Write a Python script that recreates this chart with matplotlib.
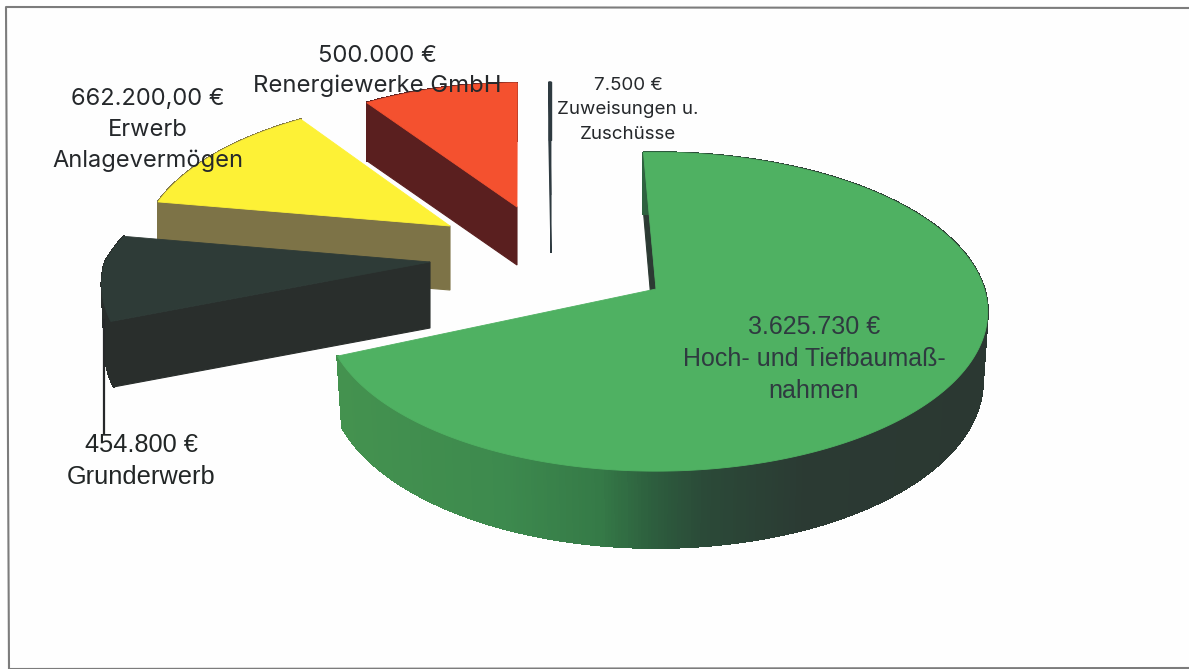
import numpy as np
import matplotlib
matplotlib.use("Agg")
import matplotlib.pyplot as plt
from matplotlib.collections import PolyCollection
from matplotlib.colors import LinearSegmentedColormap
from matplotlib.patches import Polygon

# ---- data ----
categories = ["Hoch- und Tiefbaumaß-\nnahmen", "Grunderwerb", "Erwerb\nAnlagevermögen",
              "Renergiewerke GmbH", "Zuweisungen u.\nZuschüsse"]
values = [3625730, 454800, 662200, 500000, 7500]
value_labels = ["3.625.730 €", "454.800 €", "662.200,00 €", "500.000 €", "7.500 €"]

# ---- styling / layout ----
tips = [(656, 289), (430, 262), (450, 226), (517, 207), (551, 195)]   # exploded wedge tip (pixels)
scales = [0.99, 0.98, 0.92, 0.90, 0.82]
depths = [68, 66, 64, 58, 58]
skews = [0, 0.12, 0.03, 0.01, 0]
rotations = [-2.5, 0, 0, 0, 0]
persp_depth = [1, 0, 0, 0, 0]
lowers = [0.985, 0.99, 1.0, 1.0, 1.0]
top_colors = ["#4fb162", "#2e3b37", "#fdf136", "#f4512f", "#2e3a40"]
face_colors = ["#2c3a33", "#292e2c", "#7d7347", "#5a1f1f", "#2e3a40"]
label_pos = [(814, 359), (141, 461), (148, 130), (377, 71), (628, 110)]
label_fonts = ["Liberation Sans", "Liberation Sans", "Inter", "Inter", "Inter"]
label_sizes = [18, 18.3, 17, 17.2, 13.5]
label_steps = [1.42, 1.4, 1.49, 1.47, 1.55]
label_colors = ["#2f3a40", "#222626", "#25282b", "#25282b", "#25282b"]

RX, RY, K = 331.6, 157.7, 1 / 7
wall_cmap = LinearSegmentedColormap.from_list(
    "wall", [(0.0, "#44924f"), (0.25, "#3d8a4e"), (0.4, "#357a47"), (0.48, "#2d5f3e"),
             (0.56, "#2b4a38"), (0.72, "#2b3a33"), (1.0, "#2b3832")])

fig = plt.figure(figsize=(11.89, 6.69), dpi=100, facecolor="#fefefe")
ax = fig.add_axes([0, 0, 1, 1])
ax.set_xlim(0, 1189)
ax.set_ylim(669, 0)
ax.axis("off")

# scanned page frame
ax.plot([1189, 6, 9, 1189], [8, 7, 669, 668], color="#7c7c7c", lw=1.5, zorder=1)

fractions = np.array(values, dtype=float) / sum(values)
ends = np.cumsum(fractions) * 360
starts = ends - fractions * 360


def project(theta_deg, i, lower=False):
    """Perspective projection of a rim point (theta clockwise from the far side)."""
    th = np.radians(theta_deg + rotations[i])
    u, v = np.sin(th), np.cos(th)
    w = 1 / (1 + K * v)
    f = lowers[i] if lower else 1.0
    d = (depths[i] * (w if persp_depth[i] else 1.0)) if lower else 0.0
    x = tips[i][0] + RX * scales[i] * f * (u + skews[i] * np.maximum(v, 0)) * w
    y = tips[i][1] - RY * scales[i] * f * v * w + d
    return np.column_stack([x, y])


order = [4, 3, 2, 1, 0]   # back to front
for z, i in enumerate(order):
    tip, d = tips[i], depths[i]
    n = max(int(fractions[i] * 360 * 2), 2)
    th = np.linspace(starts[i], ends[i], n)
    top = project(th, i)
    low = project(th, i, lower=True)
    base = 10 + 5 * z
    # radial face at the start of the wedge
    tip_low = (tip[0], tip[1] + d)
    ax.add_patch(Polygon([tip, top[0], low[0], tip_low], closed=True,
                         fc=face_colors[i], ec=face_colors[i], lw=0.8, zorder=base))
    # outer wall
    quads = [[top[j], top[j + 1], low[j + 1], low[j]] for j in range(n - 1)]
    if i == 0:
        mid = (top[:-1, 0] + top[1:, 0]) / 2
        t = (mid - mid.min()) / (mid.max() - mid.min())
        cols = wall_cmap(t)
    else:
        cols = [face_colors[i]] * (n - 1)
    ax.add_collection(PolyCollection(quads, facecolors=cols, edgecolors=cols, linewidths=1.0,
                                     antialiaseds=False, zorder=base + 1))
    # top surface
    ax.add_patch(Polygon(np.vstack([[tip], top]), closed=True, fc=top_colors[i], ec=top_colors[i],
                         lw=0.6, zorder=base + 2))

# leader of the Grunderwerb slice
ax.plot([104, 104], [320, 433], color="#26282a", lw=1.6, zorder=40)

for i in range(len(values)):
    x, y = label_pos[i]
    lines = [value_labels[i]] + categories[i].split("\n")
    ax.text(x, y, "\n".join(lines), ha="center", va="center", fontfamily=label_fonts[i],
            fontsize=label_sizes[i], color=label_colors[i], linespacing=label_steps[i], zorder=50)

fig.savefig("out.png", dpi=100, facecolor=fig.get_facecolor())
